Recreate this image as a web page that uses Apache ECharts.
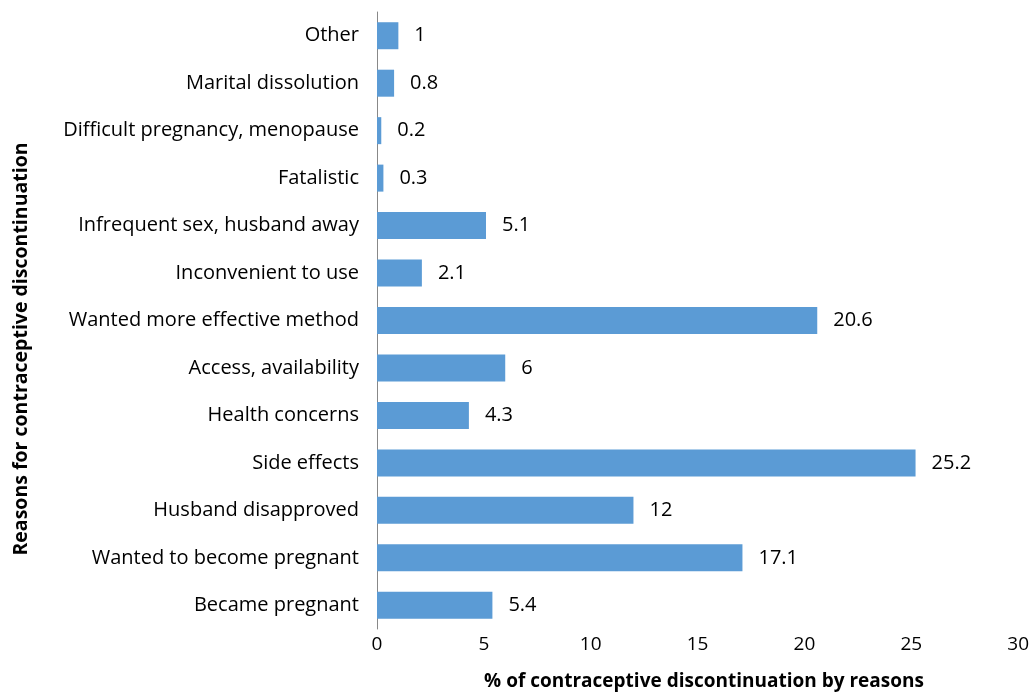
<!DOCTYPE html>
<html><head><meta charset="utf-8">
<script src="https://cdn.jsdelivr.net/npm/echarts@6/dist/echarts.min.js"></script>
<style>html,body{margin:0;padding:0;background:#fff}#c{width:1032px;height:695px}</style>
</head><body><div id="c"></div>
<script>
const categories = ["Became pregnant","Wanted to become pregnant","Husband disapproved","Side effects","Health concerns","Access, availability","Wanted more effective method","Inconvenient to use","Infrequent sex, husband away","Fatalistic","Difficult pregnancy, menopause","Marital dissolution","Other"];
const values = [5.4,17.1,12,25.2,4.3,6,20.6,2.1,5.1,0.3,0.2,0.8,1];
const xTicks = [0,5,10,15,20,25,30];
const xTitle = '% of contraceptive discontinuation by reasons';
const yTitle = 'Reasons for contraceptive discontinuation';
const FONT = "'Open Sans', sans-serif";
const chart = echarts.init(document.getElementById('c'));
chart.setOption({
  animation:false,
  grid:{left:377,right:13,top:12,bottom:66,containLabel:false},
  xAxis:{type:'value',min:0,max:30,interval:5,
    axisLine:{show:false},axisTick:{show:false},splitLine:{show:false},
    axisLabel:{color:'#000',fontSize:19,fontFamily:FONT,margin:6}},
  yAxis:{type:'category',data:categories,
    axisLine:{show:true,lineStyle:{color:'#888',width:1}},axisTick:{show:false},
    axisLabel:{color:'#000',fontSize:20,fontFamily:FONT,margin:18}},
  graphic:[
    {type:'text',x:704,y:682,style:{text:xTitle,fill:'#000',font:"bold 19px 'Open Sans', sans-serif",textAlign:'center',textVerticalAlign:'middle'}},
    {type:'text',x:21,y:349,rotation:Math.PI/2,style:{text:yTitle,fill:'#000',font:"bold 19.5px 'Open Sans', sans-serif",textAlign:'center',textVerticalAlign:'middle'}}
  ],
  series:[{type:'bar',data:values,barWidth:27,
    itemStyle:{color:'#5B9BD5'},
    label:{show:true,position:'right',distance:16,color:'#000',fontSize:20,fontFamily:FONT}}]
});
</script></body></html>
